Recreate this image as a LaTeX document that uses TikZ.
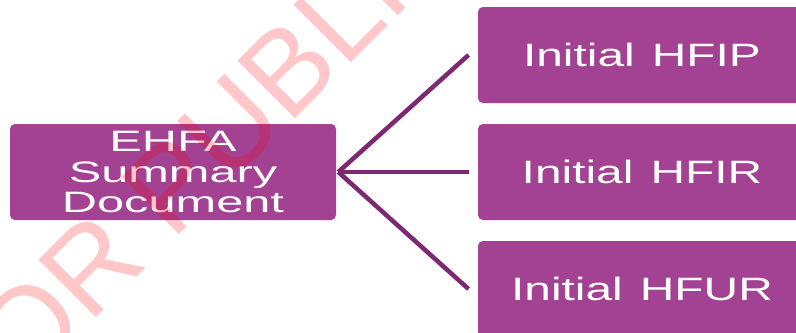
\documentclass[tikz,border=0pt]{standalone}
\usepackage{fontspec}
\setmainfont{Liberation Sans}
\newfontfamily\sumfont{Liberation Sans}[FakeStretch=1.65]
\newfontfamily\leaffont{Liberation Sans}[FakeStretch=1.48]
\definecolor{boxpurple}{RGB}{163,65,147}
\definecolor{linkpurple}{RGB}{125,40,115}

\begin{document}
\begin{tikzpicture}[
  mainbox/.style={fill=boxpurple, rounded corners=3.5pt, text=white, align=center, minimum width=8.15cm, minimum height=2.4cm},
  leafbox/.style={mainbox, minimum width=8.2cm, font=\leaffont\fontsize{23}{25}\selectfont},
  link/.style={draw=linkpurple, line width=3.2pt}
]
\useasboundingbox (0,0) rectangle (19.9,8.3);
\node[mainbox, font=\sumfont\fontsize{21}{21.8}\selectfont] (ehfa) at (4.325,4.0) {EHFA\\Summary\\Document};
\node[leafbox] (hfip) at (16.05,6.925) {Initial\hspace{0.12em} HFIP};
\node[leafbox] (hfir) at (16.05,4.0) {Initial\hspace{0.12em} HFIR};
\node[leafbox] (hfur) at (16.05,1.075) {Initial\hspace{0.12em} HFUR};
\draw[link] ([xshift=0.05cm]ehfa.east) -- ([xshift=-0.23cm]hfip.west);
\draw[link] ([xshift=0.05cm]ehfa.east) -- ([xshift=-0.23cm]hfir.west);
\draw[link] ([xshift=0.05cm]ehfa.east) -- ([xshift=-0.23cm]hfur.west);
% watermark
\begin{scope}
\clip (0,0) rectangle (19.9,8.3);
\node[rotate=45, anchor=base west, inner sep=0, text=red, text opacity=0.22, font=\fontsize{84}{84}\selectfont] (stamp) at (-0.675,-2.725) {FOR PUBLIC};
\end{scope}
\end{tikzpicture}
\end{document}
